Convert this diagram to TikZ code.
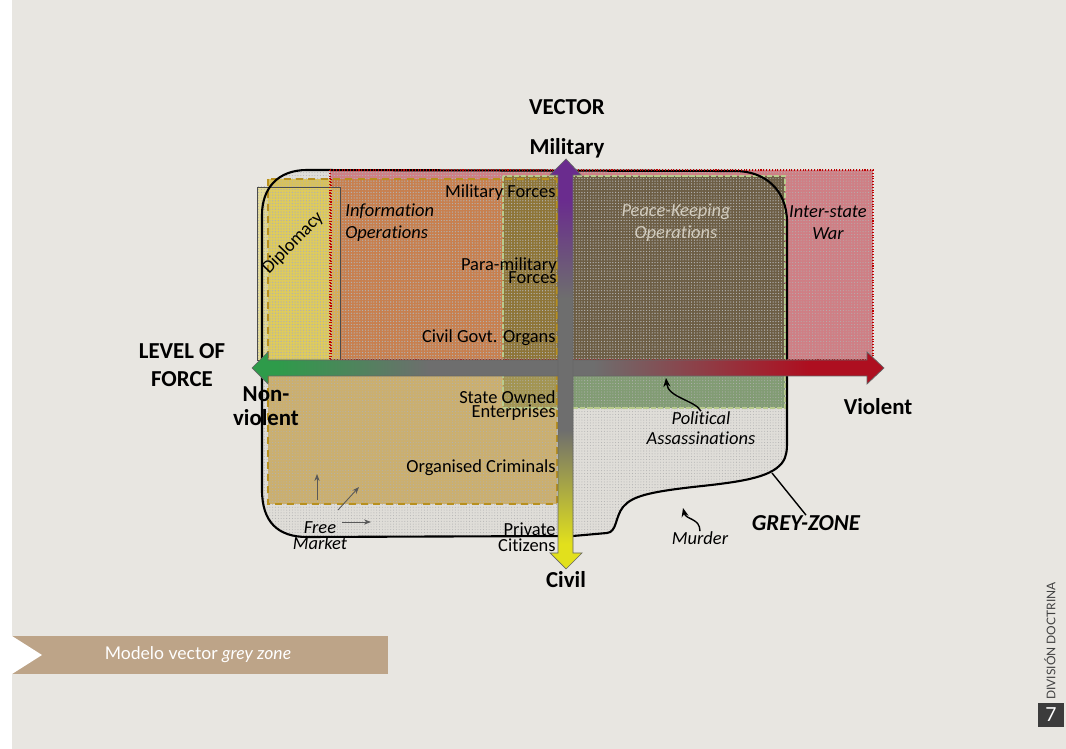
\documentclass[tikz,border=0pt]{standalone}
\usepackage{fontspec}
\setmainfont{Carlito}[Ligatures={NoCommon,NoContextual}]
\newfontfamily\capfont{Lato}
\usetikzlibrary{positioning,arrows.meta,patterns.meta}
\definecolor{pagebg}{HTML}{E8E6E1}
\definecolor{gzfill}{HTML}{DFDDD8}
\definecolor{warpink}{HTML}{CF7F85}
\definecolor{infoorange}{HTML}{C8804F}
\definecolor{tanfill}{HTML}{CBAF6F}
\definecolor{dipyellow}{HTML}{D8C25C}
\definecolor{diplight}{HTML}{E4D45E}
\definecolor{olivefill}{HTML}{8E7537}
\definecolor{olivelight}{HTML}{A39552}
\definecolor{pkobrown}{HTML}{6D5E45}
\definecolor{pkogreen}{HTML}{829C74}
\definecolor{pkoedge}{HTML}{B9CB8E}
\definecolor{pkotext}{HTML}{D2CCBE}
\definecolor{golddash}{HTML}{B8901E}
\definecolor{forcegreen}{HTML}{2E9B4A}
\definecolor{forcered}{HTML}{AE0F20}
\definecolor{axisgrey}{HTML}{6E6E6E}
\definecolor{milpurple}{HTML}{6A2C8E}
\definecolor{civyellow}{HTML}{E2E01C}
\definecolor{capband}{HTML}{BDA488}
\definecolor{pagebox}{HTML}{3C3C3C}
\pgfdeclarehorizontalshading{forceshade}{100bp}{color(0bp)=(forcegreen); color(27bp)=(forcegreen); color(39bp)=(axisgrey); color(52bp)=(axisgrey); color(69bp)=(forcered); color(100bp)=(forcered)}
\pgfdeclareverticalshading{vectorshade}{100bp}{color(0bp)=(civyellow); color(28bp)=(civyellow); color(42bp)=(axisgrey); color(58bp)=(axisgrey); color(70bp)=(milpurple); color(100bp)=(milpurple)}
\newcommand\tightskip{\lineskiplimit=-20pt\relax\lineskip=0pt\relax}
\tikzset{
  lbl/.style={font=\fontsize{10.5}{12}\selectfont,inner sep=0pt},
  tight/.style={font=\fontsize{10.5}{#1}\selectfont\tightskip},
  note/.style={font=\fontsize{10.5}{12.5}\selectfont\itshape,inner sep=0pt},
  axbold/.style={font=\fontsize{13}{15}\selectfont\bfseries,inner sep=0pt},
  stipple/.style={pattern={Dots[distance=1.6pt,radius=.3pt]},pattern color=black!30},
  reddot/.style={draw=red!75!black,densely dotted,line width=.6pt},
  curvy/.style={draw=black,line width=.8pt,-{Stealth[length=5pt,width=4pt]}},
  mkt/.style={draw=black!65,line width=.5pt,-{Stealth[length=4pt,width=3pt]}}
}
% outline of the grey zone
\newcommand\gzone{(262,215) -- (262,490) .. controls (262,522) and (278,537) .. (307,537)
  -- (573,536) -- (607,533) .. controls (617,532) and (615,517) .. (623,507)
  .. controls (632,496) and (650,492) .. (693,487) .. controls (740,482) and (770,478) .. (782,463)
  .. controls (787,456) and (787,450) .. (787,440) -- (787,222)
  .. controls (787,190) and (765,171) .. (735,171) -- (307,170)
  .. controls (278,170) and (262,188) .. (262,215) -- cycle}

\begin{document}
\begin{tikzpicture}[x=0.02cm,y=-0.02cm]
\useasboundingbox (0,0) rectangle (1066,749);
\fill[white] (0,0) rectangle (1066,749);
\fill[pagebg] (12,0) rectangle (1066,749);

\fill[gzfill] \gzone;
% blocks
\fill[warpink] (330,170) rectangle (873,360);
\fill[tanfill] (268,179) rectangle (557,504);
\fill[infoorange] (331,179) rectangle (557,360);
\fill[dipyellow] (268,179) rectangle (331,360);
\fill[olivefill] (503,176) rectangle (566,368);
\fill[pkobrown] (566,176) rectangle (785,368);
\fill[olivelight] (503,368) rectangle (566,408);
\fill[pkogreen] (566,368) rectangle (785,408);
\fill[diplight,fill opacity=.55] (257,187) rectangle (340,360);
\fill[stipple] \gzone;
\fill[stipple] (330,170) rectangle (873,360);
\fill[stipple] (257,187) rectangle (340,360);
% borders
\draw[golddash,line width=1pt,dash pattern=on 4pt off 3pt] (268,179) rectangle (557,504);
\draw[reddot] (331,179) -- (331,360);
\draw[pkoedge,line width=.8pt,dash pattern=on 3pt off 1pt] (503,176) rectangle (785,408);
\draw[black!70,line width=.5pt] (257,187) rectangle (340,360);
\draw[black,line width=1.2pt] \gzone;
\draw[reddot] (330,170) rectangle (873,360);

% level of force and vector axes
\shadedraw[shading=forceshade,draw=black!60,line width=.4pt] (252,368) -- (268,352) -- (268,360) -- (867,360) -- (867,352)
  -- (884,368) -- (867,384) -- (867,376) -- (268,376) -- (268,384) -- cycle;
\shadedraw[shading=vectorshade,draw=black!60,line width=.4pt] (566,159) -- (581,175) -- (573,175) -- (573,553) -- (582,553)
  -- (566,569) -- (550,553) -- (558,553) -- (558,175) -- (550,175) -- cycle;

\node[axbold] (mil) at (567,148) {Military};
\node[axbold,above=13pt of mil.north,anchor=south] (vec) {VECTOR};
\node[axbold] (civ) at (566,580) {Civil};
\node[axbold,align=center,font=\fontsize{13}{16}\selectfont\bfseries] (lof) at (182,365) {LEVEL OF\\FORCE};
\node[axbold,align=center,font=\fontsize{13}{14}\selectfont\bfseries] (nonv) at (266,406) {Non-\\violent};
\node[axbold] (viol) at (878,407) {Violent};

\node[lbl,anchor=east] (milf) at (556,193) {Military Forces};
\node[lbl,tight=7.5,align=right,anchor=east] (para) at (557,271) {Para-military\\Forces};
\node[lbl,anchor=east] (govt) at (556,338) {Civil Govt. Organs};
\node[lbl,tight=8,align=right,anchor=east] (soe) at (556,406) {State Owned\\Enterprises};
\node[lbl,anchor=east] (crim) at (556,468) {Organised Criminals};
\node[lbl,tight=9,align=right,anchor=east] (priv) at (556,537) {Private\\Citizens};

\node[note,align=left,anchor=west] (info) at (345,223) {Information\\Operations};
\node[note,align=center,text=pkotext] (pko) at (676,223) {Peace-Keeping\\Operations};
\node[note,align=center] (war) at (828,223) {Inter-state\\War};
\node[lbl,rotate=46] (dipl) at (293,243) {Diplomacy};
\node[note,align=center,font=\fontsize{10.5}{11.3}\selectfont\itshape] (polit) at (701,428) {Political\\Assassinations};
\node[note] (murd) at (700,538) {Murder};
\node[note,align=center,font=\fontsize{10.5}{9}\selectfont\itshape] (free) at (320,536) {Free\\Market};
\node[axbold,font=\fontsize{13}{15}\selectfont\bfseries\itshape] (gzl) at (806,523) {GREY-ZONE};

\coordinate (pa) at (666,378);
\coordinate (md) at (683,508);
\coordinate (gzp) at (772,473);
\draw[curvy] (polit.north) .. controls (695,400) and (668,398) .. (pa);
\draw[curvy] (murd.north) .. controls (700,518) and (686,520) .. (md);
\draw[black,line width=.8pt] (gzl.north) -- (gzp);
\foreach \a/\b in {{(317,500)}/{(317,474)},{(338,510)}/{(359,487)},{(342,522)}/{(371,522)}}
  \draw[mkt] \a -- \b;

% caption and page mark
\fill[capband] (12,636) rectangle (388,674);
\fill[white] (12,636) -- (42,655) -- (12,674) -- cycle;
\node[text=white,font=\capfont\fontsize{10}{12}\selectfont] (cap) at (198,655) {Modelo vector \textit{grey zone}};
\node[rotate=90,text=black!75,font=\capfont\fontsize{6.8}{8}\selectfont] (div) at (1050,641) {DIVISIÓN DOCTRINA};
\node[fill=pagebox,text=white,minimum width=.52cm,minimum height=.48cm,inner sep=0pt,font=\capfont\fontsize{11}{12}\selectfont] (pg) at (1051,715) {7};
\end{tikzpicture}
\end{document}
